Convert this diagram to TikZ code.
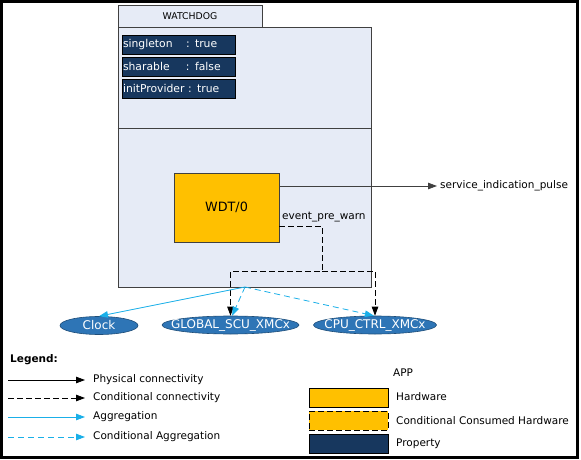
\documentclass[tikz,border=0pt]{standalone}
\usepackage{fontspec}
\setmainfont{DejaVu Sans}
\usetikzlibrary{arrows.meta,shapes.geometric}
\definecolor{boxfill}{HTML}{E6EBF6}
\definecolor{boxline}{HTML}{404040}
\definecolor{navy}{HTML}{17375E}
\definecolor{hwfill}{HTML}{FFC000}
\definecolor{ellfill}{HTML}{2E75B6}
\definecolor{ellline}{HTML}{1F4E79}
\definecolor{aggcol}{HTML}{1AAFE8}
\begin{document}
\begin{tikzpicture}[x=1pt,y=-1pt,
  every node/.style={font=\fontsize{10.5}{12}\selectfont},
  blk/.style={-{Triangle[length=9pt,width=6.5pt]}},
  phys/.style={blk,draw=black,line width=0.8pt},
  cond/.style={blk,draw=black,line width=0.8pt,dash pattern=on 6pt off 3pt},
  agg/.style={-{Triangle[length=9pt,width=6.5pt]},draw=aggcol,line width=0.8pt},
  cagg/.style={agg,dash pattern=on 6pt off 4pt},
  tabbox/.style={draw=boxline,fill=boxfill,line width=0.8pt,minimum width=144pt,minimum height=22pt,inner sep=0pt,font=\fontsize{9.3}{11}\selectfont},
  mainbox/.style={draw=boxline,fill=boxfill,line width=0.8pt,minimum width=253pt,minimum height=260pt,inner sep=0pt},
  prop/.style={draw=black,fill=navy,text=white,line width=0.6pt,minimum width=113pt,minimum height=19pt,inner xsep=1pt,inner ysep=0pt,text width=111pt,align=left,font=\fontsize{10.8}{12}\selectfont},
  hw/.style={draw=boxline,fill=hwfill,line width=0.8pt,inner sep=0pt},
  ell/.style={ellipse,draw=ellline,fill=ellfill,line width=0.6pt,inner sep=0pt,minimum height=18pt},
  elltxt/.style={text=white,font=\fontsize{12}{13}\selectfont},
  legtext/.style={anchor=west,inner sep=0pt},
  legbox/.style={draw=black,line width=0.8pt,minimum width=79pt,minimum height=19pt,inner sep=0pt}
]
\useasboundingbox (0,0) rectangle (581,460);
\draw[line width=3pt] (1.5,1.5) rectangle (577.5,457.5);

% component
\node[tabbox] (tab) at (190,16) {WATCHDOG};
\node[mainbox] (main) at (244.5,157) {};
\draw[boxline,line width=0.8pt] (main.west |- 0,128) -- (main.east |- 0,128);

\node[prop] (p1) at (178.5,44.5) {\makebox[63pt][l]{singleton}: true};
\node[prop] (p2) at (178.5,66.5) {\makebox[63pt][l]{sharable}: false};
\node[prop] (p3) at (178.5,88.5) {initProvider : true};

\node[hw,minimum width=105pt,minimum height=69pt,font=\fontsize{12.8}{14}\selectfont] (wdt) at (226.5,207.5) {WDT/0};

% signals
\node[legtext,inner xsep=3pt] (sip) at (437,186) {service\_indication\_pulse};
\draw[phys,draw=boxline] ([yshift=21.5pt]wdt.east) -- (sip.west);

\node[legtext] (epw) at (282,217) {event\_pre\_warn};

% consumed apps
\node[ell,minimum width=78pt,label={[elltxt]center:Clock}] (clock) at (99,325.5) {};
\node[ell,minimum width=137pt,label={[elltxt]center:GLOBAL\_SCU\_XMCx}] (gscu) at (230.5,325) {};
\node[ell,minimum width=123pt,label={[elltxt]center:CPU\_CTRL\_XMCx}] (cpu) at (375,325) {};

\coordinate (e0) at ([yshift=-18.5pt]wdt.east);
\coordinate (ej) at (322,271);
\draw[cond] (e0) -| (ej) -| (gscu.north);
\draw[cond] (ej) -| (cpu.north);

\coordinate (aggsrc) at (245,287);
\draw[agg] (aggsrc) -- (clock.north);
\draw[cagg] (aggsrc) -- (gscu.80);
\draw[cagg] (aggsrc) -- (cpu.97);

% legend
\node[legtext,font=\bfseries\fontsize{10.5}{12}\selectfont] (leg) at (10,360) {Legend:};
\node[legtext] (t1) at (93,380) {Physical connectivity};
\node[legtext] (t2) at (93,398) {Conditional connectivity};
\node[legtext] (t3) at (93,417) {Aggregation};
\node[legtext] (t4) at (93,437) {Conditional Aggregation};
\coordinate (l1) at (8,380);
\coordinate (l2) at (8,398);
\coordinate (l3) at (8,417);
\coordinate (l4) at (8,437);
\draw[phys] (l1) -- ([xshift=-8pt]t1.west);
\draw[cond] (l2) -- ([xshift=-8pt]t2.west);
\draw[agg] (l3) -- ([xshift=-8pt]t3.west);
\draw[cagg] (l4) -- ([xshift=-8pt]t4.west);

\node[legtext] (app) at (393,373) {APP};
\node[legbox,fill=hwfill] (b1) at (348.5,397.5) {};
\node[legbox,fill=hwfill,dash pattern=on 6pt off 3pt] (b2) at (348.5,420.5) {};
\node[legbox,fill=navy] (b3) at (348.5,443.5) {};
\node[legtext] (bt1) at (396,397) {Hardware};
\node[legtext] (bt2) at (396,420.5) {Conditional Consumed Hardware};
\node[legtext] (bt3) at (396,443.5) {Property};
\end{tikzpicture}
\end{document}
